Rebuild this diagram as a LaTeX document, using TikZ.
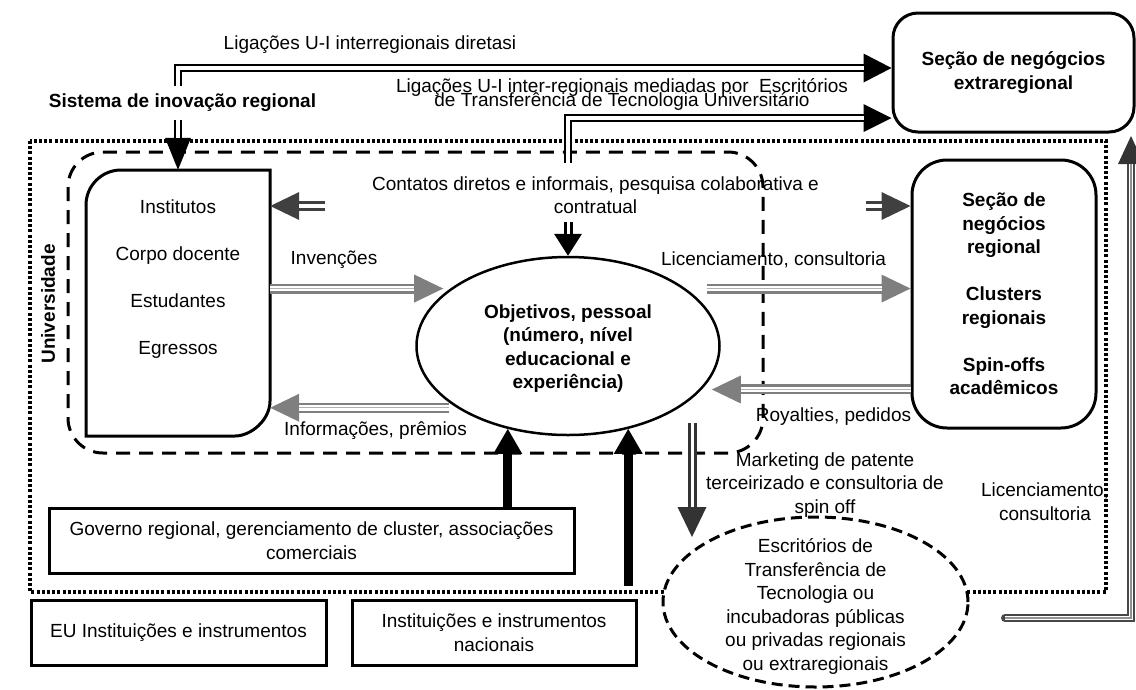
\documentclass[tikz,border=0pt]{standalone}
\usepackage{fontspec}
\setmainfont{Liberation Sans}
\usetikzlibrary{arrows.meta,shapes.geometric}
\newcommand\figtext{\fontsize{19pt}{23.5pt}\selectfont}
\newcommand\figtight{\fontsize{19pt}{14pt}\selectfont\lineskiplimit=-40pt\lineskip=0pt}
\definecolor{midgray}{HTML}{7F7F7F}
\definecolor{deepgray}{HTML}{404040}
\definecolor{arrowdark}{HTML}{333333}
\definecolor{linkgray}{HTML}{474747}
\begin{document}
\begin{tikzpicture}[x=1pt,y=-1pt,
  every node/.style={font=\figtext, inner sep=0pt, align=center},
  boxline/.style={line width=3pt},
  dotframe/.style={line width=3.2pt, dash pattern=on 3pt off 2.2pt},
  dashframe/.style={line width=3pt, dash pattern=on 14pt off 9pt, rounded corners=35pt},
  sqbox/.style={draw, line width=3pt},
  roundbox/.style={draw, line width=3pt, rounded corners=#1},
  graylink/.style={draw=midgray, line width=10pt,
    arrows={-Triangle[length=29pt,width=28pt,line width=0pt]},
    postaction={draw=white, line width=5.5pt, -, shorten >=29pt},
    postaction={draw=midgray!60, line width=1.4pt, -, shorten >=29pt}},
  darklink/.style={draw=deepgray, line width=10pt,
    arrows={-Triangle[length=29pt,width=28pt,line width=0pt]},
    postaction={draw=white, line width=4pt, -, shorten >=29pt}},
  blacklink/.style={draw=black, line width=8pt,
    arrows={-Triangle[length=28pt,width=28pt,line width=0pt]},
    postaction={draw=white, line width=4pt, -, shorten >=28pt}},
  shortblack/.style={draw=black, line width=9pt,
    arrows={-Triangle[length=22pt,width=28pt,line width=0pt]},
    postaction={draw=white, line width=3pt, -, shorten >=22pt}},
  topdbl/.style={draw=black, line width=8pt,
    arrows={Triangle[length=32pt,width=26pt,line width=0pt]-Triangle[length=28pt,width=29pt,line width=0pt]},
    postaction={draw=white, line width=4pt, -, shorten <=32pt, shorten >=28pt}},
  thicklink/.style={draw=black, line width=9pt,
    arrows={-Triangle[length=25pt,width=29pt,line width=0pt]}},
  downlink/.style={draw=arrowdark, line width=9pt,
    arrows={-Triangle[length=30pt,width=29pt,line width=0pt]},
    postaction={draw=white, line width=3pt, -, shorten >=30pt}},
  liclink/.style={draw=linkgray, line width=8pt, line cap=round,
    arrows={-Triangle[length=28pt,width=26pt,line width=0pt,color=arrowdark]},
    postaction={draw=white, line width=4pt, -, line cap=butt, shorten >=28pt},
    postaction={draw=linkgray!60, line width=1.3pt, -, line cap=butt, shorten >=28pt}},
]
% canvas
\useasboundingbox (0,0) rectangle (1136,689);
\fill[white] (0,0) rectangle (1136,689);

% regional innovation system frame and university frame
\draw[dotframe] (30,141) rectangle (1106,592);
\draw[dashframe] (68,152) rectangle (763,453);

% university units box (two rounded corners)
\draw[boxline] (86,436) -- (86,205) .. controls (86,185.7) and (101.7,170) .. (121,170)
  -- (270,170) -- (270,401) .. controls (270,420.3) and (250.7,436) .. (235,436) -- cycle;
\node[minimum width=184pt, minimum height=266pt] (inst) at (178,303) {};
\node (instTxt) at (178,279) {Institutos\\[23.5pt]Corpo docente\\[23.5pt]Estudantes\\[23.5pt]Egressos};

% business sections
\node[roundbox=35pt, minimum width=184pt, minimum height=268pt, font=\figtext\bfseries] (reg) at (1004,294)
  {Seção de\\negócios\\regional\\[23.5pt]Clusters\\regionais\\[23.5pt]Spin-offs\\acadêmicos};
\node[roundbox=25pt, minimum width=241pt, minimum height=119pt, font=\figtext\bfseries] (ext) at (1013.5,72.5)
  {Seção de negógcios\\extraregional};

% institutions
\node[sqbox, minimum width=525pt, minimum height=65pt] (gov) at (311.5,540.5)
  {Governo regional, gerenciamento de cluster, associações\\comerciais};
\node[sqbox, minimum width=295pt, minimum height=65pt] (eu) at (178.5,632.5) {EU Instituições e instrumentos};
\node[sqbox, minimum width=284pt, minimum height=65pt] (nac) at (494,632.5) {Instituições e instrumentos\\nacionais};

% goals ellipse and transfer offices
\node[ellipse, draw, line width=2.5pt, fill=white, minimum width=303pt, minimum height=178pt] (obj) at (568,346) {};
\node[font=\figtext\bfseries] (objTxt) at (568,348.5) {Objetivos, pessoal\\(número, nível\\educacional e\\experiência)};
\node[ellipse, draw, line width=3pt, dash pattern=on 11pt off 6pt, fill=white, minimum width=305pt, minimum height=170pt] (tto) at (815.5,602) {};
\node (ttoTxt) at (815.5,606.5) {Escritórios de\\Transferência de\\Tecnologia ou\\incubadoras públicas\\ou privadas regionais\\ou extraregionais};

% helper points for free connector ends
\coordinate (medTail) at (568,163);
\coordinate (ctTail) at (568,222);
\coordinate (dkL) at (325,206);
\coordinate (dkR) at (866,206);
\coordinate (nacTop) at ([yshift=13pt]nac.north);
\coordinate (mkTop) at (692,423);
\coordinate (mkTip) at (692,537);
\coordinate (licTail) at (1005,618);
\coordinate (licTip) at (1131,136);

% inter-regional links
\draw[topdbl] (inst.north) |- ([yshift=4.5pt]ext.west);
\draw[blacklink] (medTail) |- ([yshift=-45.5pt]ext.west);
\draw[shortblack] (ctTail) -- (obj.north);

% flows within the region
\draw[darklink] (dkL) -- (inst.east |- dkL);
\draw[darklink] (dkR) -- (reg.west |- dkR);
\draw[graylink] (inst.east |- obj.154) -- ([xshift=-7pt]obj.154);
\draw[graylink] ([xshift=-8pt]obj.209) -- (inst.east |- obj.209);
\draw[graylink] ([xshift=21pt]obj.26) -- (reg.west |- obj.26);
\draw[graylink] (reg.west |- obj.-18) -- ([xshift=10pt]obj.-18);

% support from government and national institutions
\draw[thicklink] (obj.234 |- gov.north) -- (obj.234);
\draw[thicklink] (obj.306 |- nacTop) -- (obj.306);

% outsourced marketing and licensing to extraregional business
\draw[downlink] (mkTop) -- (mkTip);
\draw[liclink] (licTail) -| (licTip);

% labels
\node (lDir) at (370,45) {Ligações U-I interregionais diretasi};
\node[font=\figtight] (lMed) at (622,94) {Ligações U-I inter-regionais mediadas por\ \ Escritórios\\de Transferência de Tecnologia Universitário};
\node[font=\figtext\bfseries, fill=white, inner xsep=3pt, inner ysep=8pt] (lSis) at (182.5,103) {Sistema de inovação regional};
\node[rotate=90, font=\figtext\bfseries] (lUni) at (48,304) {Universidade};
\node (lCont) at (595.5,195) {Contatos diretos e informais, pesquisa colaborativa e\\contratual};
\node (lInv) at (334,260) {Invenções};
\node (lInf) at (375.5,431) {Informações, prêmios};
\node (lLic) at (773.5,260) {Licenciamento, consultoria};
\node (lRoy) at (833.5,417) {Royalties, pedidos};
\node (lMkt) at (825,485) {Marketing de patente\\terceirizado e consultoria de\\spin off};
\node (lLic2) at (1045,501.5) {Licenciamento,\\consultoria};
\end{tikzpicture}
\end{document}
